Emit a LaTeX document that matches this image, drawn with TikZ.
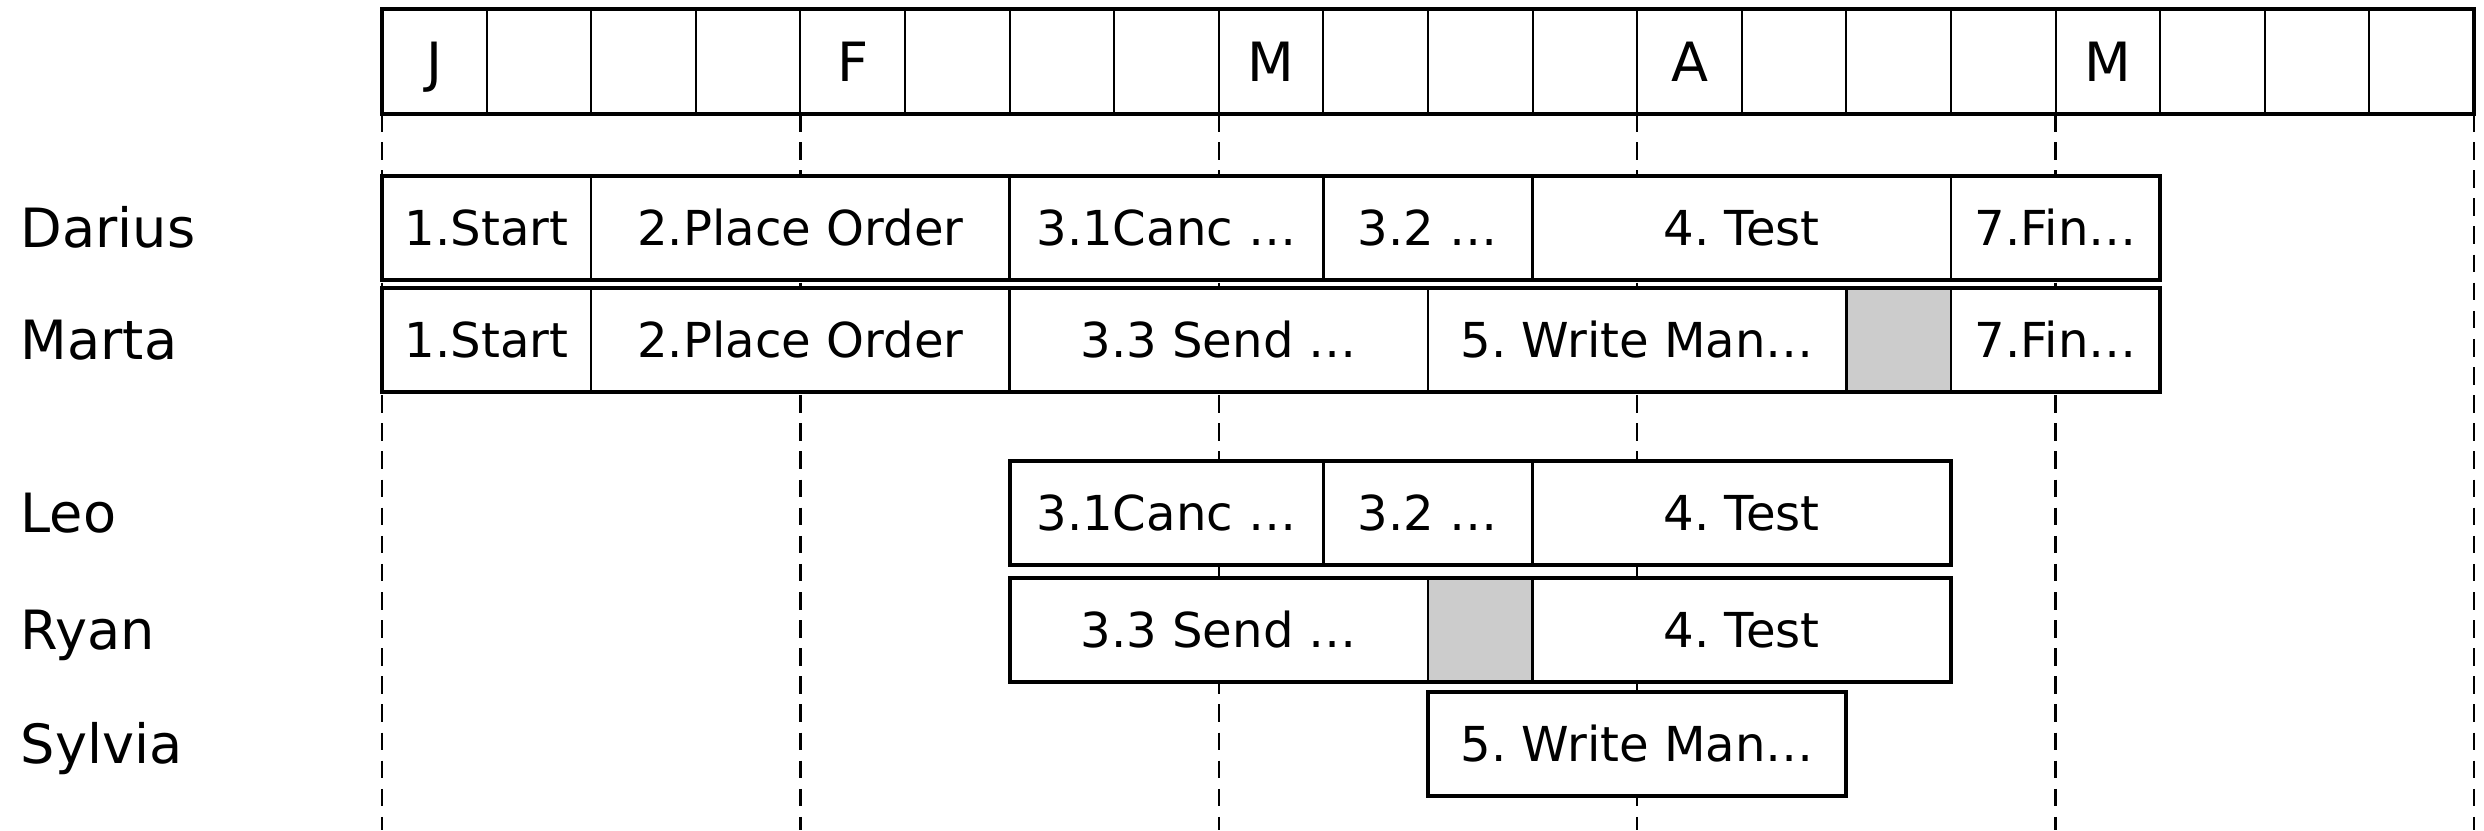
\documentclass[tikz,border=0pt]{standalone}
\usepackage{fontspec}
\setmainfont{DejaVu Sans}
\usetikzlibrary{positioning}
\definecolor{idlegray}{RGB}{204,204,204}
\frenchspacing
\tikzset{
    % header cells
    hcell/.style={
        rectangle, draw, line width=0.6pt, inner sep=0pt, outer sep=0pt,
        minimum width=1.046cm, minimum height=1.046cm
    },
    month/.style={
        inner sep=0pt, font=\fontsize{15.4pt}{18pt}\selectfont,
        text height=11.2pt, text depth=0pt
    },
    who/.style={
        anchor=west, inner sep=0pt, font=\fontsize{15.4pt}{18pt}\selectfont,
        text height=11.2pt, text depth=0pt
    },
    % one task box, #1 = number of cells
    task/.style={
        rectangle, draw, line width=0.7pt, fill=white,
        inner sep=0pt, outer sep=0pt,
        minimum width=#1*1.046cm, minimum height=1.046cm,
        font=\fontsize{13.7pt}{16pt}\selectfont,
        text height=10pt, text depth=0pt
    },
    idle/.style={task=#1, fill=idlegray},
    rowframe/.style={draw, line width=1.1pt},
    monthline/.style={line width=0.7pt, dash pattern=on 5pt off 3pt}
}

\begin{document}
\begin{tikzpicture}

\useasboundingbox (0,0) rectangle (24.84,-8.30);
\coordinate (bottom) at (0,-8.30);

% Header
\foreach \i in {0,...,19}
    \node[hcell] (h\i) at ({3.82+(\i+0.5)*1.046},-0.617) {};
\draw[rowframe] (h0.north west) rectangle (h19.south east);
\foreach \i/\m in {0/J,4/F,8/M,12/A,16/M}
    \node[month] (m\i) at (h\i) {\m};

% Month lines
\foreach \i in {0,4,8,12,16}
    \draw[monthline] (h\i.south west) -- (h\i.south west |- bottom);
\draw[monthline] (h19.south east) -- (h19.south east |- bottom);

% People
\node[who] (ldarius) at (0.2,-2.28) {Darius};
\node[who] (lmarta) at (0.2,-3.40) {Marta};
\node[who] (lleo) at (0.2,-5.13) {Leo};
\node[who] (lryan) at (0.2,-6.30) {Ryan};
\node[who] (lsylvia) at (0.2,-7.44) {Sylvia};

% Darius
\node[task=2, anchor=west] (d1) at (h0.west |- ldarius) {1.Start};
\node[task=4, right=0pt of d1] (d2) {2.Place Order};
\node[task=3, right=0pt of d2] (d3) {3.1Canc …};
\node[task=2, right=0pt of d3] (d4) {3.2 …};
\node[task=4, right=0pt of d4] (d5) {4. Test};
\node[task=2, right=0pt of d5] (d6) {7.Fin…};
\draw[rowframe] (d1.north west) rectangle (d6.south east);

% Marta
\node[task=2, anchor=west] (ma1) at (h0.west |- lmarta) {1.Start};
\node[task=4, right=0pt of ma1] (ma2) {2.Place Order};
\node[task=4, right=0pt of ma2] (ma3) {3.3 Send …};
\node[task=4, right=0pt of ma3] (ma4) {5. Write Man…};
\node[idle=1, right=0pt of ma4] (ma5) {};
\node[task=2, right=0pt of ma5] (ma6) {7.Fin…};
\draw[rowframe] (ma1.north west) rectangle (ma6.south east);

% Leo
\node[task=3, anchor=west] (l1) at (h6.west |- lleo) {3.1Canc …};
\node[task=2, right=0pt of l1] (l2) {3.2 …};
\node[task=4, right=0pt of l2] (l3) {4. Test};
\draw[rowframe] (l1.north west) rectangle (l3.south east);

% Ryan
\node[task=4, anchor=west] (r1) at (h6.west |- lryan) {3.3 Send …};
\node[idle=1, right=0pt of r1] (r2) {};
\node[task=4, right=0pt of r2] (r3) {4. Test};
\draw[rowframe] (r1.north west) rectangle (r3.south east);

% Sylvia
\node[task=4, anchor=west] (s1) at (h10.west |- lsylvia) {5. Write Man…};
\draw[rowframe] (s1.north west) rectangle (s1.south east);

\end{tikzpicture}
\end{document}
